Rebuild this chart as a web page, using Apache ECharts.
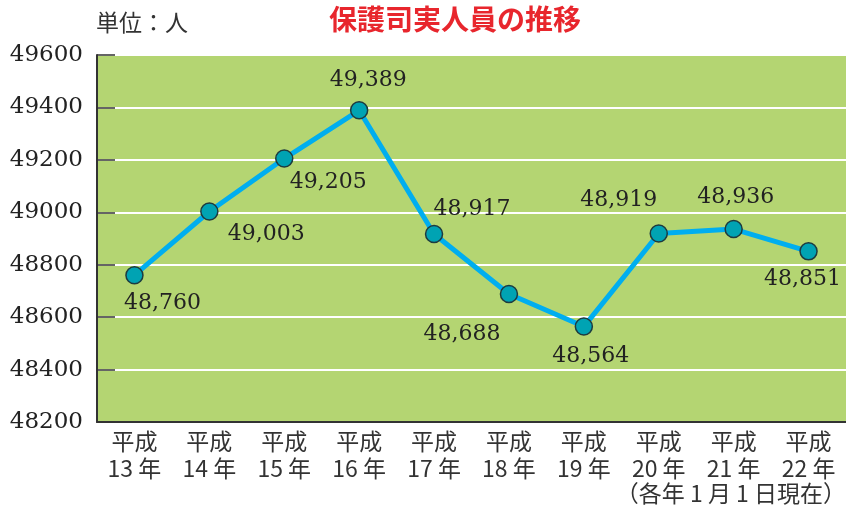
<!DOCTYPE html>
<html>
<head>
<meta charset="utf-8">
<script src="https://cdn.jsdelivr.net/npm/echarts@6/dist/echarts.min.js"></script>
<style>
  html, body { margin: 0; padding: 0; background: #fff; }
  #chart { width: 846px; height: 513px; }
</style>
</head>
<body>
<div id="chart"></div>
<script>
// 平成13年〜22年の保護司実人員（各年1月1日現在）
const years = ['13', '14', '15', '16', '17', '18', '19', '20', '21', '22'];
const members = [48760, 49003, 49205, 49389, 48917, 48688, 48564, 48919, 48936, 48851];
const yTicks = [48200, 48400, 48600, 48800, 49000, 49200, 49400, 49600];

// label offsets from each point [dx, dy]
const labelOffsets = [
  [28, 28], [57, 23], [44, 24], [9, -30], [38, -25],
  [-47, 40], [7, 30], [-40, -33], [2, -32], [-6, 28]
];

const serif = '"DejaVu Serif", "Liberation Serif", serif';
const jp = '"Noto Sans CJK JP", sans-serif';

const chart = echarts.init(document.getElementById('chart'));
chart.setOption({
  animation: false,
  graphic: [
    { type: 'text', left: 96, top: 11, style: { text: '単位：人', font: '23px ' + jp, fill: '#333' } },
    { type: 'text', left: 329, top: 5, style: { text: '保護司実人員の推移', font: 'bold 28px ' + jp, fill: '#e8262d' } },
    { type: 'text', right: 0, top: 482, style: { text: '（各年 1 月 1 日現在）', font: '23px ' + jp, fill: '#333' } }
  ],
  grid: {
    left: 97, top: 55, width: 754, height: 367,
    show: true, backgroundColor: '#b4d572', borderWidth: 0
  },
  xAxis: {
    type: 'category',
    data: years,
    axisLine: { lineStyle: { color: '#333', width: 2 } },
    axisTick: { inside: true, length: 9, lineStyle: { color: '#333', width: 1.5 } },
    axisLabel: {
      margin: 6,
      formatter: v => '平成\n' + v + ' 年',
      fontFamily: jp, fontSize: 23, lineHeight: 27, color: '#333'
    }
  },
  yAxis: {
    type: 'value',
    min: yTicks[0], max: yTicks[yTicks.length - 1], interval: 200,
    axisLine: { show: true, lineStyle: { color: '#333', width: 2 } },
    axisTick: { show: true, inside: true, length: 18, lineStyle: { color: '#333', width: 1.5 } },
    splitLine: { lineStyle: { color: '#ffffff', width: 2 } },
    axisLabel: { margin: 14, fontFamily: serif, fontSize: 23, color: '#222', formatter: v => String(v) }
  },
  series: [{
    type: 'line',
    data: members.map((v, i) => ({
      value: v,
      label: { offset: labelOffsets[i] }
    })),
    lineStyle: { color: '#00aeef', width: 5 },
    symbol: 'circle', symbolSize: 17,
    itemStyle: { color: '#00a3b3', borderColor: '#1d3b40', borderWidth: 1.5 },
    label: {
      show: true, position: 'inside',
      align: 'center', verticalAlign: 'middle',
      fontFamily: serif, fontSize: 22, color: '#222',
      formatter: p => p.value.toLocaleString('en-US')
    },
    z: 3
  }]
});
</script>
</body>
</html>
